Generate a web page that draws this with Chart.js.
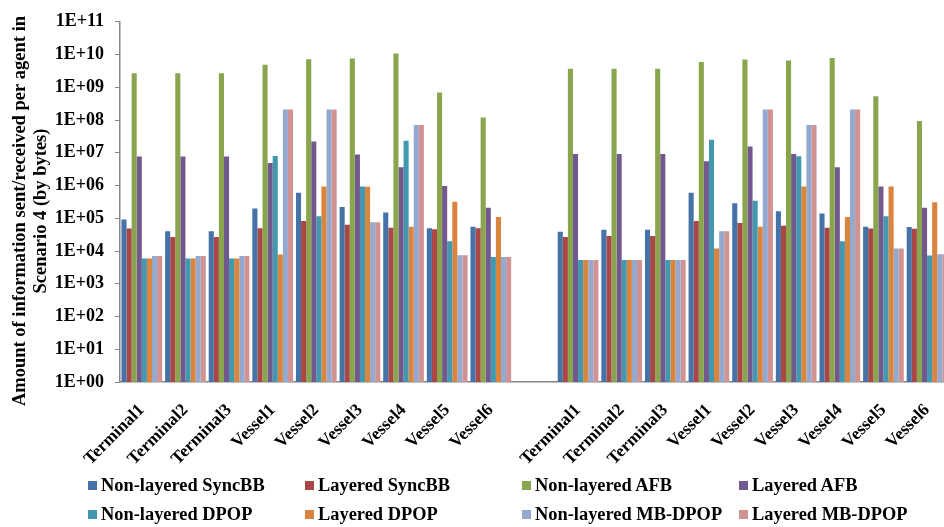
<!DOCTYPE html>
<html>
<head>
<meta charset="utf-8">
<script src="https://cdn.jsdelivr.net/npm/chart.js@4.4.1/dist/chart.umd.min.js"></script>
<style>
html, body { margin: 0; padding: 0; background: #fff; overflow: hidden; }
#wrap { position: relative; width: 944px; height: 527px; overflow: hidden; }
#c { position: absolute; left: 0; top: 0; }
#legend {
    position: absolute; left: 88px; top: 471.5px;
    display: grid; grid-template-columns: 217px 217px 217px 217px;
}
.item {
    display: flex; align-items: center; height: 28.5px;
    font: bold 18.4px "Liberation Serif", serif; color: #000; white-space: nowrap;
}
.box { width: 9px; height: 9px; margin-right: 4px; flex: none; }
</style>
</head>
<body>
<div id="wrap">
    <canvas id="c" width="952" height="527"></canvas>
    <div id="legend"></div>
</div>
<script>
// categories (index 9 is the empty gap between the two groups)
const categories = [
    'Terminal1', 'Terminal2', 'Terminal3', 'Vessel1', 'Vessel2', 'Vessel3', 'Vessel4', 'Vessel5', 'Vessel6',
    '',
    'Terminal1', 'Terminal2', 'Terminal3', 'Vessel1', 'Vessel2', 'Vessel3', 'Vessel4', 'Vessel5', 'Vessel6'
];

const seriesNames = [
    'Non-layered SyncBB', 'Layered SyncBB', 'Non-layered AFB', 'Layered AFB',
    'Non-layered DPOP', 'Layered DPOP', 'Non-layered MB-DPOP', 'Layered MB-DPOP'
];

const nlSyncBB = [9.1e4, 4.0e4, 4.0e4, 2.0e5, 6.0e5, 2.2e5, 1.5e5, 5.0e4, 5.5e4, null,
                  3.9e4, 4.5e4, 4.5e4, 6.0e5, 2.9e5, 1.65e5, 1.4e5, 5.5e4, 5.4e4];
const lSyncBB  = [4.9e4, 2.7e4, 2.7e4, 5.0e4, 8.3e4, 6.3e4, 5.1e4, 4.6e4, 5.0e4, null,
                  2.7e4, 2.9e4, 2.9e4, 8.3e4, 7.2e4, 5.9e4, 5.1e4, 4.9e4, 4.8e4];
const nlAFB    = [2.7e9, 2.7e9, 2.7e9, 4.9e9, 7.2e9, 7.6e9, 1.07e10, 6.9e8, 1.2e8, null,
                  3.7e9, 3.7e9, 3.7e9, 5.9e9, 7.1e9, 6.6e9, 7.9e9, 5.3e8, 9.3e7];
const lAFB     = [7.7e6, 7.7e6, 7.7e6, 4.9e6, 2.2e7, 8.9e6, 3.6e6, 9.7e5, 2.1e5, null,
                  9.2e6, 9.2e6, 9.2e6, 5.5e6, 1.56e7, 9.2e6, 3.6e6, 9.3e5, 2.1e5];
const nlDPOP   = [5.9e3, 5.9e3, 5.9e3, 8.0e6, 1.15e5, 9.3e5, 2.35e7, 2.0e4, 6.6e3, null,
                  5.3e3, 5.3e3, 5.3e3, 2.5e7, 3.4e5, 7.9e6, 2.0e4, 1.15e5, 7.3e3];
const lDPOP    = [5.9e3, 5.9e3, 5.9e3, 7.8e3, 9.3e5, 9.2e5, 5.5e4, 3.2e5, 1.1e5, null,
                  5.3e3, 5.3e3, 5.3e3, 1.2e4, 5.5e4, 9.3e5, 1.1e5, 9.3e5, 3.1e5];
const nlMBDPOP = [7.1e3, 7.1e3, 7.1e3, 2.1e8, 2.1e8, 7.6e4, 7.1e7, 7.4e3, 6.6e3, null,
                  5.3e3, 5.3e3, 5.3e3, 4.0e4, 2.1e8, 7.1e7, 2.1e8, 1.2e4, 8.0e3];
const lMBDPOP  = [7.1e3, 7.1e3, 7.1e3, 2.1e8, 2.1e8, 7.6e4, 7.1e7, 7.4e3, 6.6e3, null,
                  5.3e3, 5.3e3, 5.3e3, 4.0e4, 2.1e8, 7.1e7, 2.1e8, 1.2e4, 8.0e3];

const seriesValues = [nlSyncBB, lSyncBB, nlAFB, lAFB, nlDPOP, lDPOP, nlMBDPOP, lMBDPOP];

const colors = ['#4572A7', '#AA4643', '#89A54E', '#71588F', '#4198AF', '#DB843D', '#93A9CF', '#D19392'];

const yTicks = [1, 1e1, 1e2, 1e3, 1e4, 1e5, 1e6, 1e7, 1e8, 1e9, 1e10, 1e11];

const yTitle = ['Amount of information sent/received per agent in', 'Scenario 4 (by bytes)'];

const FONT = '"Liberation Serif", serif';

// y axis title, two centred lines
const yTitlePlugin = {
    id: 'yTitle',
    afterDraw(chart) {
        const ctx = chart.ctx;
        ctx.save();
        ctx.font = 'bold 18.5px ' + FONT;
        ctx.fillStyle = '#000';
        ctx.textAlign = 'center';
        ctx.textBaseline = 'middle';
        yTitle.forEach((t, i) => {
            ctx.save();
            ctx.translate(20 + i * 21, 211);
            ctx.rotate(-Math.PI / 2);
            ctx.fillText(t, 0, 0);
            ctx.restore();
        });
        ctx.restore();
    }
};

new Chart(document.getElementById('c'), {
    type: 'bar',
    data: {
        labels: categories,
        datasets: seriesNames.map((name, i) => ({
            label: name,
            data: seriesValues[i],
            backgroundColor: colors[i],
            borderWidth: 0,
            barPercentage: 1,
            categoryPercentage: 0.933
        }))
    },
    options: {
        responsive: false,
        animation: false,
        devicePixelRatio: 1,
        layout: { padding: { top: 15, left: 0, right: 3, bottom: 0 } },
        plugins: {
            legend: { display: false },
            tooltip: { enabled: false }
        },
        scales: {
            x: {
                grid: { display: false },
                border: { color: '#868686', width: 1.5 },
                ticks: {
                    autoSkip: false,
                    minRotation: 45,
                    maxRotation: 45,
                    padding: 10,
                    color: '#000',
                    font: { family: FONT, size: 17.5, weight: 'bold' }
                },
                afterFit(axis) { axis.height = 145; }
            },
            y: {
                type: 'logarithmic',
                min: 1,
                max: 1e11,
                grid: { drawOnChartArea: false, color: '#868686', tickLength: 5 },
                border: { color: '#868686', width: 1.5 },
                ticks: {
                    padding: 11,
                    color: '#000',
                    font: { family: FONT, size: 18, weight: 'bold' },
                    callback: v => '1E+' + String(Math.round(Math.log10(v))).padStart(2, '0')
                },
                afterBuildTicks(axis) {
                    axis.ticks = yTicks.map(v => ({ value: v }));
                },
                afterFit(axis) { axis.width = 120; }
            }
        }
    },
    plugins: [yTitlePlugin]
});

// legend in four columns, like the original
const legend = document.getElementById('legend');
seriesNames.forEach((name, i) => {
    const item = document.createElement('div');
    item.className = 'item';
    const box = document.createElement('span');
    box.className = 'box';
    box.style.background = colors[i];
    item.appendChild(box);
    item.appendChild(document.createTextNode(name));
    legend.appendChild(item);
});
</script>
</body>
</html>
